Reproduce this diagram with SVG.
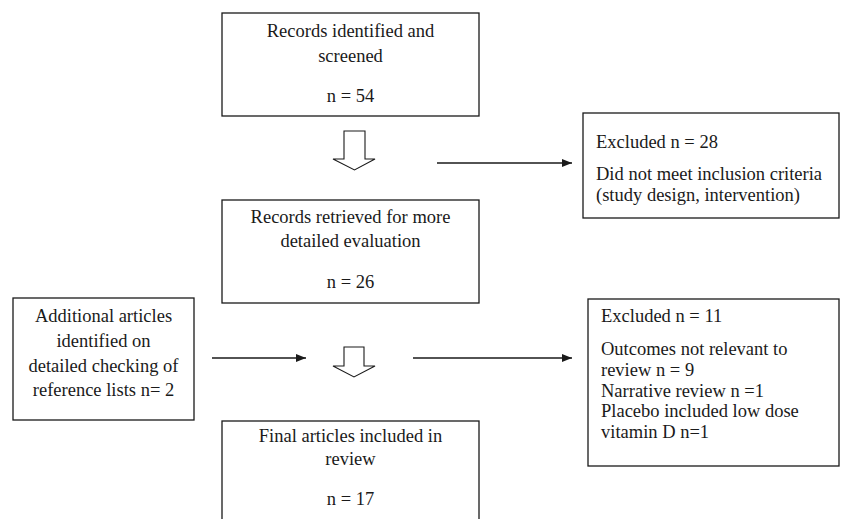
<svg xmlns="http://www.w3.org/2000/svg" width="842" height="519" viewBox="0 0 842 519">
<style>
.box{fill:#fff;stroke:#1a1a1a;stroke-width:1.3}
.t{font-family:"Liberation Serif","Times New Roman",serif;font-size:18.5px;fill:#1a1a1a}
.c{text-anchor:middle}
.ln{stroke:#1a1a1a;stroke-width:1.3;fill:none}
.blk{fill:#fff;stroke:#1a1a1a;stroke-width:1.1}
</style>
<defs>
<marker id="ah" viewBox="0 0 10 8" refX="10" refY="4" markerWidth="10" markerHeight="8" markerUnits="userSpaceOnUse" orient="auto">
<path d="M0,0 L10,4 L0,8 Z" fill="#1a1a1a"/>
</marker>
</defs>
<rect width="842" height="519" fill="#fff"/>
<g id="n1">
<rect class="box" x="222" y="13" width="257" height="103"/>
<text class="t c" x="350.5" y="37">Records identified and</text>
<text class="t c" x="350.5" y="62">screened</text>
<text class="t c" x="350.5" y="102">n = 54</text>
</g>
<g id="n2">
<rect class="box" x="583" y="113" width="256" height="105"/>
<text class="t" x="596" y="148">Excluded n = 28</text>
<text class="t" x="596" y="180">Did not meet inclusion criteria</text>
<text class="t" x="596" y="201">(study design, intervention)</text>
</g>
<g id="n3">
<rect class="box" x="222" y="200" width="257" height="103"/>
<text class="t c" x="350.5" y="223">Records retrieved for more</text>
<text class="t c" x="350.5" y="247">detailed evaluation</text>
<text class="t c" x="350.5" y="288">n = 26</text>
</g>
<g id="n4">
<rect class="box" x="13" y="298" width="181" height="122"/>
<text class="t c" x="103.5" y="322">Additional articles</text>
<text class="t c" x="103.5" y="347">identified on</text>
<text class="t c" x="103.5" y="372">detailed checking of</text>
<text class="t c" x="103.5" y="396">reference lists n= 2</text>
</g>
<g id="n5">
<rect class="box" x="588" y="299" width="251" height="167"/>
<text class="t" x="601" y="322">Excluded n = 11</text>
<text class="t" x="601" y="355">Outcomes not relevant to</text>
<text class="t" x="601" y="376">review n = 9</text>
<text class="t" x="601" y="397">Narrative review n =1</text>
<text class="t" x="601" y="417">Placebo included low dose</text>
<text class="t" x="601" y="438">vitamin D n=1</text>
</g>
<g id="n6">
<rect class="box" x="222" y="421" width="257" height="110"/>
<text class="t c" x="350.5" y="442">Final articles included in</text>
<text class="t c" x="350.5" y="465">review</text>
<text class="t c" x="350.5" y="505">n = 17</text>
</g>
<g id="connectors">
<path class="blk" d="M344,131 H365 V159 H375 L354.5,170 L333,159 H344 Z"/>
<path class="blk" d="M344,347 H364 V366 H375 L354,377 L333,366 H344 Z"/>
<line class="ln" x1="437" y1="163" x2="572" y2="163" marker-end="url(#ah)"/>
<line class="ln" x1="212" y1="358" x2="306" y2="358" marker-end="url(#ah)"/>
<line class="ln" x1="413" y1="358" x2="572" y2="358" marker-end="url(#ah)"/>
</g>
</svg>
